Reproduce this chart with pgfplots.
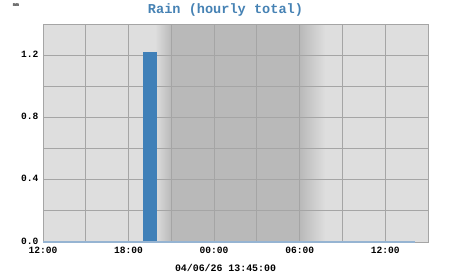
\documentclass[border=0pt]{standalone}
\usepackage{fontspec}
\setmainfont{Liberation Mono}
\usepackage{pgfplots}
\pgfplotsset{compat=1.18}
\definecolor{bglight}{RGB}{222,222,222}
\definecolor{bgdark}{RGB}{185,185,185}
\definecolor{gridc}{RGB}{165,165,165}
\definecolor{barc}{RGB}{64,128,184}
\definecolor{titlec}{RGB}{70,130,180}
\definecolor{basec}{RGB}{150,180,210}
\begin{document}
\begin{tikzpicture}
\useasboundingbox (0pt,0pt) rectangle (451pt,275pt);
\pgfplotsset{common/.style={
  at={(43pt,33pt)}, anchor=south west,
  scale only axis, width=385pt, height=218pt,
  xmin=0, xmax=27, ymin=0, ymax=1.4}}
% background with night shading
\begin{axis}[common, hide axis]
  \begin{scope}
  \clip (axis cs:0,0) rectangle (axis cs:27,1.4);
  \fill[bglight] (axis cs:0,0) rectangle (axis cs:27,1.4);
  \fill[bgdark] (axis cs:9,0) rectangle (axis cs:18,1.4);
  \fill[left color=bglight, right color=bgdark] (axis cs:7.85,0.004) rectangle (axis cs:9,1.396);
  \fill[left color=bgdark, right color=bglight] (axis cs:18,0.004) rectangle (axis cs:19.8,1.396);
  \end{scope}
\end{axis}
\begin{axis}[
  common, clip=false,
  xtick={0,6,12,18,24},
  xticklabels={12:00,18:00,00:00,06:00,12:00},
  minor xtick={3,9,15,21,27},
  ytick={0,0.4,0.8,1.2},
  minor ytick={0.2,0.6,1.0,1.4},
  yticklabel style={/pgf/number format/fixed,/pgf/number format/fixed zerofill,/pgf/number format/precision=1},
  /pgf/number format/assume math mode=true,
  ticklabel style={font=\fontsize{9.6}{10}\selectfont\bfseries, text=black},
  xticklabel style={yshift=-2pt},
  yticklabel style={xshift=-1pt, yshift=1pt},
  grid=both,
  major grid style={gridc, line width=0.8pt},
  minor grid style={gridc, line width=0.8pt},
  major tick length=0pt, minor tick length=0pt,
  axis line style={gridc, line width=0.8pt},
]
\addplot[ybar interval, fill=barc, draw=none] coordinates {(7,1.22) (8,1.22)};
\addplot[basec, line width=1.2pt, forget plot] coordinates {(0,0) (26.1,0)};
\end{axis}
\node[font=\fontsize{13.6}{14}\selectfont\bfseries, text=titlec] at (225.5pt,265pt) {Rain (hourly total)};
\node[font=\fontsize{9.9}{10}\selectfont\bfseries] at (225.5pt,7pt) {04/06/26 13:45:00};
\node[font=\fontsize{5}{5}\selectfont\bfseries] at (16pt,270pt) {mm};
\end{tikzpicture}
\end{document}
